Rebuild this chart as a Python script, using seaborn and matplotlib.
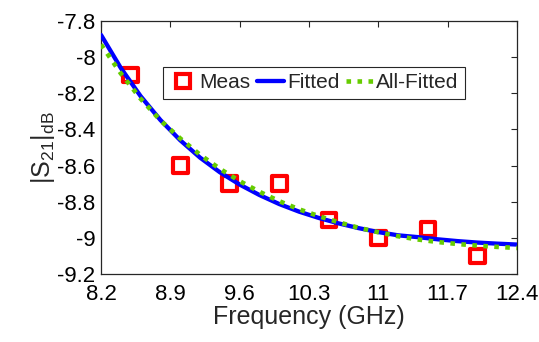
import matplotlib
matplotlib.use("Agg")
import matplotlib.pyplot as plt
import pandas as pd
import seaborn as sns
from matplotlib.lines import Line2D
from matplotlib.ticker import FuncFormatter

# measured points
meas_freq = [8.5, 9.0, 9.5, 10.0, 10.5, 11.0, 11.5, 12.0]
meas_s21 = [-8.1, -8.6, -8.7, -8.7, -8.9, -9.0, -8.95, -9.1]

# fitted curves, every 0.2 GHz
curve_freq = [8.2, 8.4, 8.6, 8.8, 9.0, 9.2, 9.4, 9.6, 9.8, 10.0, 10.2,
              10.4, 10.6, 10.8, 11.0, 11.2, 11.4, 11.6, 11.8, 12.0, 12.2, 12.4]
fitted = [-7.877, -8.060, -8.216, -8.348, -8.460, -8.556, -8.637, -8.705,
          -8.763, -8.813, -8.855, -8.890, -8.920, -8.946, -8.968, -8.986,
          -8.996, -9.008, -9.018, -9.026, -9.032, -9.037]
all_fitted = [-7.930, -8.090, -8.230, -8.350, -8.450, -8.540, -8.618, -8.686,
              -8.745, -8.797, -8.842, -8.880, -8.914, -8.944, -8.969, -8.991,
              -9.009, -9.023, -9.034, -9.043, -9.050, -9.056]

x_ticks = [8.2, 8.9, 9.6, 10.3, 11, 11.7, 12.4]
y_ticks = [-9.2, -9.0, -8.8, -8.6, -8.4, -8.2, -8.0, -7.8]

sns.set_style("white")
plt.rcParams["font.family"] = ["Liberation Sans", "DejaVu Sans"]
plt.rcParams["mathtext.default"] = "regular"
plt.rcParams["axes.unicode_minus"] = False

meas_df = pd.DataFrame({"freq": meas_freq, "s21": meas_s21})
curve_df = pd.DataFrame({"freq": curve_freq, "fitted": fitted, "all": all_fitted})

fig = plt.figure(figsize=(5.39, 3.42), dpi=100)
ax = fig.add_axes([0.1874, 0.1988, 0.7718, 0.7398])

sns.scatterplot(data=meas_df, x="freq", y="s21", ax=ax, marker="s", s=110,
                color="red", zorder=2)
pts = ax.collections[-1]
pts.set_facecolor("none")
pts.set_edgecolor("red")
pts.set_linewidth(3)

sns.lineplot(data=curve_df, x="freq", y="fitted", ax=ax, color="#0000ff",
             lw=3.1, zorder=3)
sns.lineplot(data=curve_df, x="freq", y="all", ax=ax, color="#66cc00",
             lw=3.3, linestyle=(0, (1, 1.4)), dash_capstyle="butt", zorder=4)

ax.set_xlim(8.2, 12.4)
ax.set_ylim(-9.2, -7.8)
ax.set_xticks(x_ticks)
ax.set_yticks(y_ticks)
fmt = FuncFormatter(lambda v, p: f"{v:g}")
ax.xaxis.set_major_formatter(fmt)
ax.yaxis.set_major_formatter(fmt)
ax.tick_params(direction="in", length=4, width=0.8, labelsize=16,
               top=True, right=True, colors="#262626", labelcolor="black")
ax.tick_params(axis="y", pad=4)
ax.tick_params(axis="x", pad=7)
for sp in ax.spines.values():
    sp.set_color("#262626")
    sp.set_linewidth(0.9)

ax.set_xlabel("Frequency (GHz)", fontsize=18, labelpad=0)
ax.set_ylabel(r"$|S_{21}|_{dB}$", fontsize=18, labelpad=0)

handles = [
    Line2D([], [], marker="s", ls="none", markersize=10.5, mew=3,
           markerfacecolor="none", markeredgecolor="red"),
    Line2D([], [], color="#0000ff", lw=3.1),
    Line2D([], [], color="#66cc00", lw=3.3, ls=(0, (1, 1.4)),
           dash_capstyle="butt"),
]
leg = ax.legend(handles, ["Meas", "Fitted", "All-Fitted"], ncol=3,
                loc="center", bbox_to_anchor=(0.512, 0.755), fontsize=15,
                frameon=True, fancybox=False, framealpha=1, edgecolor="#262626",
                handlelength=1.3, handletextpad=0.15, columnspacing=0.3,
                borderpad=0.32, borderaxespad=0)
leg.get_frame().set_linewidth(0.8)

fig.savefig("out.png", dpi=100)
